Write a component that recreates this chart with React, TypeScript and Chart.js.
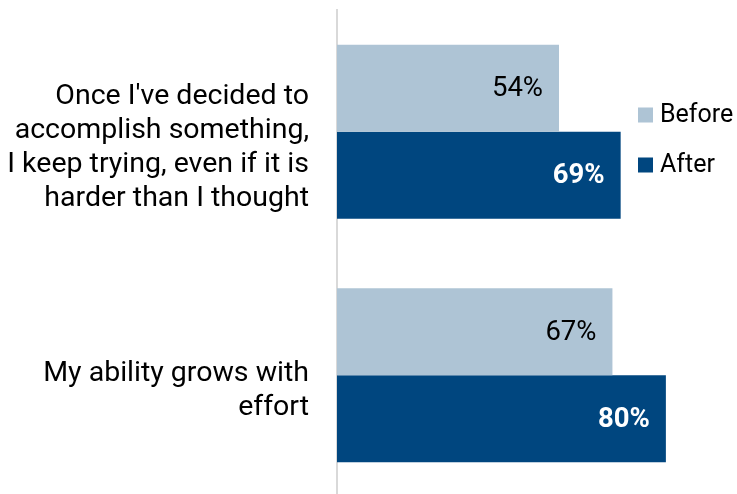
import React, { useEffect, useRef } from "react";
import { Chart, registerables } from "chart.js";

Chart.register(...registerables);

const categories: string[][] = [
  ["Once I've decided to", "accomplish something,", "I keep trying, even if it is", "harder than I thought"],
  ["My ability grows with", "effort"],
];
const seriesNames = ["Before", "After"];
const beforeValues = [54, 67];
const afterValues = [69, 80];
const seriesColors = ["#aec4d5", "#00467f"];
const valueLabelColors = ["#000000", "#ffffff"];
const valueLabelWeights = ["normal", "bold"];

const FONT = "Roboto, 'Noto Sans', sans-serif";

const valueLabelPlugin = {
  id: "valueLabels",
  afterDatasetsDraw(chart: any) {
    const ctx = chart.ctx;
    chart.data.datasets.forEach((ds: any, di: number) => {
      const meta = chart.getDatasetMeta(di);
      meta.data.forEach((bar: any, i: number) => {
        ctx.save();
        ctx.font = `${valueLabelWeights[di]} 27.5px ${FONT}`;
        ctx.fillStyle = valueLabelColors[di];
        ctx.textAlign = "right";
        ctx.textBaseline = "middle";
        ctx.fillText(`${ds.data[i]}%`, bar.x - 16, bar.y + 1);
        ctx.restore();
      });
    });
  },
};

const sideLegendPlugin = {
  id: "sideLegend",
  afterDraw(chart: any) {
    const ctx = chart.ctx;
    chart.data.datasets.forEach((ds: any, i: number) => {
      const cy = 115 + i * 50;
      ctx.save();
      ctx.fillStyle = ds.backgroundColor;
      ctx.fillRect(638, cy - 7.5, 15, 15);
      ctx.font = `25px ${FONT}`;
      ctx.fillStyle = "#000000";
      ctx.textAlign = "left";
      ctx.textBaseline = "middle";
      ctx.fillText(ds.label, 660, cy + 1);
      ctx.restore();
    });
  },
};

export default function App() {
  const canvasRef = useRef<HTMLCanvasElement | null>(null);

  useEffect(() => {
    if (!canvasRef.current) return;
    const chart = new Chart(canvasRef.current, {
      type: "bar",
      data: {
        labels: categories,
        datasets: [
          { label: seriesNames[0], data: beforeValues, backgroundColor: seriesColors[0] },
          { label: seriesNames[1], data: afterValues, backgroundColor: seriesColors[1] },
        ],
      },
      options: {
        indexAxis: "y",
        responsive: false,
        animation: false,
        devicePixelRatio: 1,
        layout: { padding: { top: 10, right: 0, bottom: 0, left: 0 } },
        datasets: {
          bar: { categoryPercentage: 0.715, barPercentage: 1 },
        },
        plugins: {
          legend: { display: false },
          tooltip: { enabled: false },
        },
        scales: {
          x: {
            display: false,
            min: 0,
            max: 97.3,
          },
          y: {
            grid: { display: false, drawTicks: false },
            border: { display: true, color: "#d9d9d9", width: 2 },
            afterFit: (scale: any) => {
              scale.width = 337;
              scale.paddingTop = 0;
              scale.paddingBottom = 0;
            },
            ticks: {
              padding: 28,
              labelOffset: 16,
              color: "#000000",
              font: { family: FONT, size: 28.5, lineHeight: 1.2 },
            },
          },
        },
      },
      plugins: [valueLabelPlugin, sideLegendPlugin],
    });
    return () => chart.destroy();
  }, []);

  return (
    <div
      style={{
        position: "fixed",
        left: 0,
        top: 0,
        width: 737,
        height: 494,
        overflow: "hidden",
        background: "#ffffff",
      }}
    >
      <canvas ref={canvasRef} width={737} height={497} style={{ width: 737, height: 497, display: "block" }} />
    </div>
  );
}
